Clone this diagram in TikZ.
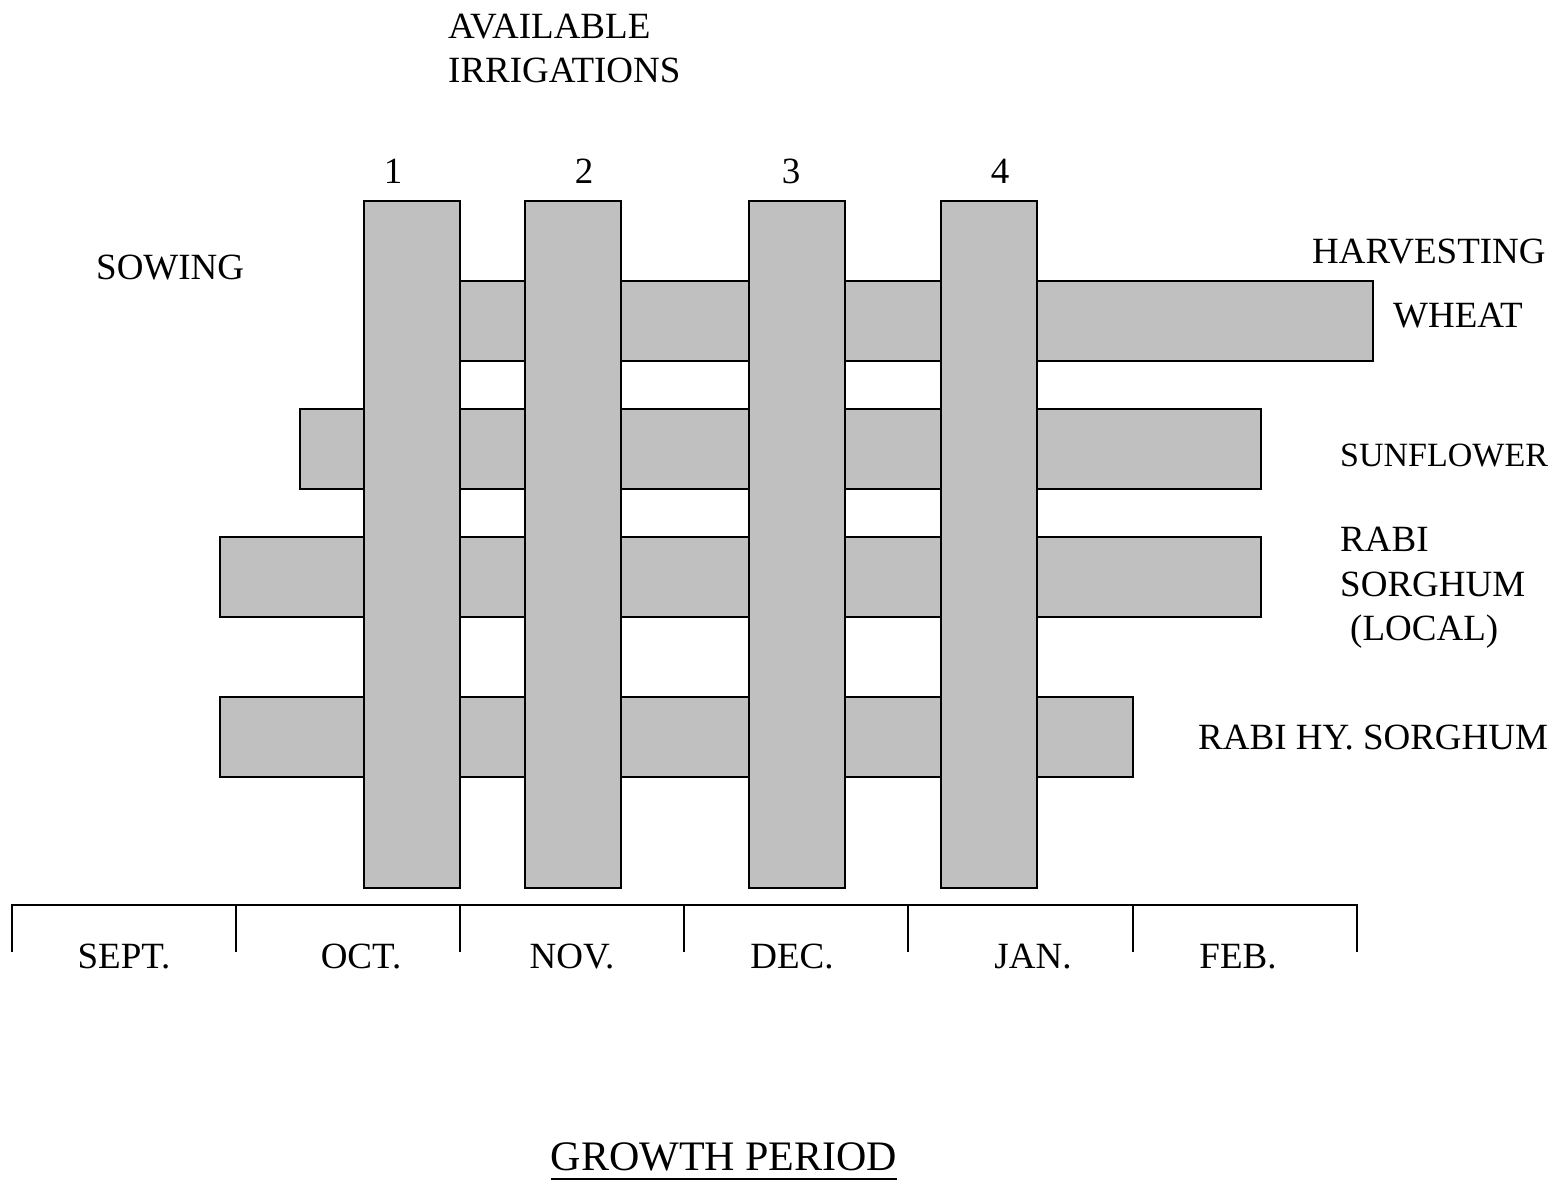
\documentclass[tikz,border=0pt]{standalone}
\usepackage{fontspec}
\setmainfont{Liberation Serif}
\definecolor{bargray}{HTML}{C0C0C0}
\begin{document}
\begin{tikzpicture}[x=1pt,y=-1pt,
  bar/.style={draw=black,fill=bargray,line width=2pt,inner sep=0pt,outer sep=0pt,rectangle},
  lbl/.style={anchor=base west,inner sep=0pt,font=\fontsize{37}{44}\selectfont},
  num/.style={anchor=base,inner sep=0pt,font=\fontsize{37}{44}\selectfont},
  mon/.style={anchor=base,inner sep=0pt,font=\fontsize{37}{44}\selectfont}]
\useasboundingbox[fill=white] (0,0) rectangle (1562,1183);
% horizontal crop bars
\node[bar,minimum width=913pt,minimum height=80pt] (wheat) at (916.5,321) {};
\node[bar,minimum width=961pt,minimum height=80pt] (sun) at (780.5,449) {};
\node[bar,minimum width=1041pt,minimum height=80pt] (local) at (740.5,577) {};
\node[bar,minimum width=913pt,minimum height=80pt] (hybrid) at (676.5,737) {};
% vertical irrigation bars
\node[bar,minimum width=96pt,minimum height=687pt] (irr1) at (412,544.5) {};
\node[bar,minimum width=96pt,minimum height=687pt] (irr2) at (572.5,544.5) {};
\node[bar,minimum width=96pt,minimum height=687pt] (irr3) at (797,544.5) {};
\node[bar,minimum width=96pt,minimum height=687pt] (irr4) at (988.5,544.5) {};
% labels
\node[lbl] (avail) at (448,38) {AVAILABLE};
\node[lbl] (irrig) at (448,82) {IRRIGATIONS};
\node[num] (n1) at (393,183) {1};
\node[num] (n2) at (584,183) {2};
\node[num] (n3) at (791,183) {3};
\node[num] (n4) at (1000,183) {4};
\node[lbl] (sowing) at (96,279) {SOWING};
\node[lbl] (harv) at (1312,263) {HARVESTING};
\node[lbl] (wheatl) at (1393,327) {WHEAT};
\node[lbl,font=\fontsize{34}{40}\selectfont] (sunl) at (1340,466) {SUNFLOWER};
\node[lbl] (rabi) at (1340,551) {RABI};
\node[lbl] (sorg) at (1340,596) {SORGHUM};
\node[lbl] (loc) at (1350,640) {(LOCAL)};
\node[lbl] (hyl) at (1198,749) {RABI HY. SORGHUM};
% axis
\coordinate (t0) at (12,905);
\coordinate (t1) at (236,905);
\coordinate (t2) at (460,905);
\coordinate (t3) at (684,905);
\coordinate (t4) at (908,905);
\coordinate (t5) at (1133,905);
\coordinate (t6) at (1357,905);
\draw[line width=2.5pt] ([xshift=-1pt]t0) -- ([xshift=1pt]t6);
\foreach \t in {t0,t1,t2,t3,t4,t5,t6}{
  \draw[line width=1.5pt] (\t) -- ++(0,47);
}
\node[mon] (sep) at (124,968) {SEPT.};
\node[mon] (oct) at (361,968) {OCT.};
\node[mon] (nov) at (572,968) {NOV.};
\node[mon] (dec) at (792,968) {DEC.};
\node[mon] (jan) at (1033,968) {JAN.};
\node[mon] (feb) at (1238,968) {FEB.};
\node[anchor=base,inner sep=0pt,font=\fontsize{42}{48}\selectfont] (growth) at (724,1170) {GROWTH PERIOD};
\draw[line width=2.5pt] (growth.base west) ++(0,9) -- ([yshift=-9pt]growth.base east);
\end{tikzpicture}
\end{document}
